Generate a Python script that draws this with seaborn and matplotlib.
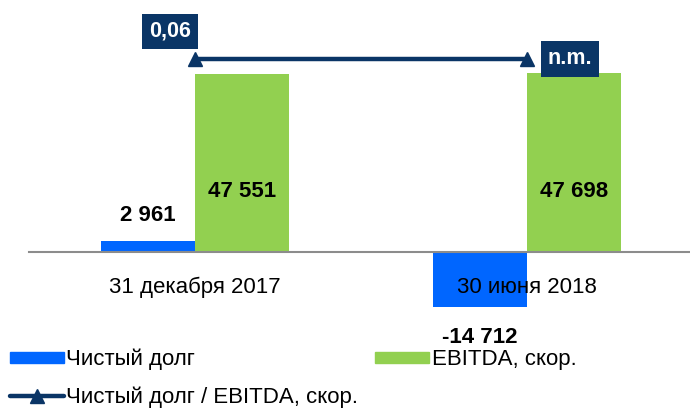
import matplotlib
matplotlib.use("Agg")
import matplotlib.pyplot as plt
import seaborn as sns
import pandas as pd
from matplotlib.ticker import FixedLocator
from matplotlib.patches import Patch
from matplotlib.lines import Line2D

# данные
categories = ["31 декабря 2017", "30 июня 2018"]
net_debt = [2961, -14712]
ebitda = [47551, 47698]
# второе значение "n.m." - линия рисуется на том же уровне
ratio = [0.06, 0.06]
ratio_labels = ["0,06", "n.m."]
series_names = ["Чистый долг", "EBITDA, скор."]
line_name = "Чистый долг / EBITDA, скор."

BLUE = "#0066FF"
GREEN = "#92D050"
NAVY = "#0A3566"

sns.set_style("white")
plt.rcParams["font.family"] = ["Liberation Sans", "DejaVu Sans"]
plt.rcParams["text.color"] = "black"
plt.rcParams["xtick.color"] = "black"

df = pd.DataFrame({
    "cat": categories * 2,
    "value": net_debt + ebitda,
    "series": [series_names[0]] * 2 + [series_names[1]] * 2,
})

fig = plt.figure(figsize=(6.9, 4.09), dpi=100)
ax = fig.add_axes([29 / 690, 1 - 315 / 409, 664 / 690, 295 / 409])

sns.barplot(data=df, x="cat", y="value", hue="series", palette=[BLUE, GREEN],
            width=0.567, linewidth=0, saturation=1, ax=ax, legend=False)

ax.set_axisbelow(False)
ax.set_xlim(-0.5, 1.5)
ax.set_ylim(-16827, 61967)
ax.set_xlabel("")
ax.set_ylabel("")
ax.set_yticks([])
for s in ["top", "right", "left"]:
    ax.spines[s].set_visible(False)
ax.spines["bottom"].set_position(("data", 0))
ax.spines["bottom"].set_color("#8c8c8c")
ax.spines["bottom"].set_linewidth(1.5)
ax.xaxis.set_minor_locator(FixedLocator([-0.5, 0.5, 1.5]))
ax.tick_params(axis="x", which="major", length=0, pad=18, labelsize=16)
ax.tick_params(axis="x", which="minor", length=7, width=1.2, color="#8c8c8c", direction="out")

# подписи значений
for bar, v in zip(ax.containers[0], net_debt):
    xc = bar.get_x() + bar.get_width() / 2
    off = 18 if v > 0 else -22
    ax.annotate(f"{v:,}".replace(",", " "), (xc, v), xytext=(0, off), textcoords="offset points",
                ha="center", va="center", fontsize=16, fontweight="bold")
for bar, v in zip(ax.containers[1], ebitda):
    xc = bar.get_x() + bar.get_width() / 2
    ax.text(xc, v * 0.34, f"{v:,}".replace(",", " "), ha="center", va="center",
            fontsize=16, fontweight="bold")

# линия отношения на второй оси
ax2 = ax.twinx()
ax2.set_ylim(0, 0.06914)
ax2.axis("off")
xs = range(len(categories))
ax2.plot(xs, ratio, color=NAVY, lw=3.2, marker="^", markersize=10)
offsets = [(-18, 20), (31, 0)]
for x, r, lab, off in zip(xs, ratio, ratio_labels, offsets):
    ax2.annotate(lab, (x, r), xytext=off, textcoords="offset points", ha="center", va="center",
                 color="white", fontsize=15.5, fontweight="bold",
                 bbox=dict(boxstyle="square,pad=0.33", fc=NAVY, ec="none"))

# легенда
handles = [Patch(color=BLUE, label=series_names[0]),
           Line2D([], [], color=NAVY, lw=3.2, marker="^", markersize=10, label=line_name),
           Patch(color=GREEN, label=series_names[1])]
fig.legend(handles=handles, ncol=2, loc="upper left", bbox_to_anchor=(10 / 690, 1 - 349 / 409),
           frameon=False, fontsize=16, handlelength=2.43, handleheight=0.4,
           handletextpad=0.1, columnspacing=0.77, labelspacing=0.71, borderaxespad=0,
           borderpad=0)

fig.savefig("out.png", dpi=100)
